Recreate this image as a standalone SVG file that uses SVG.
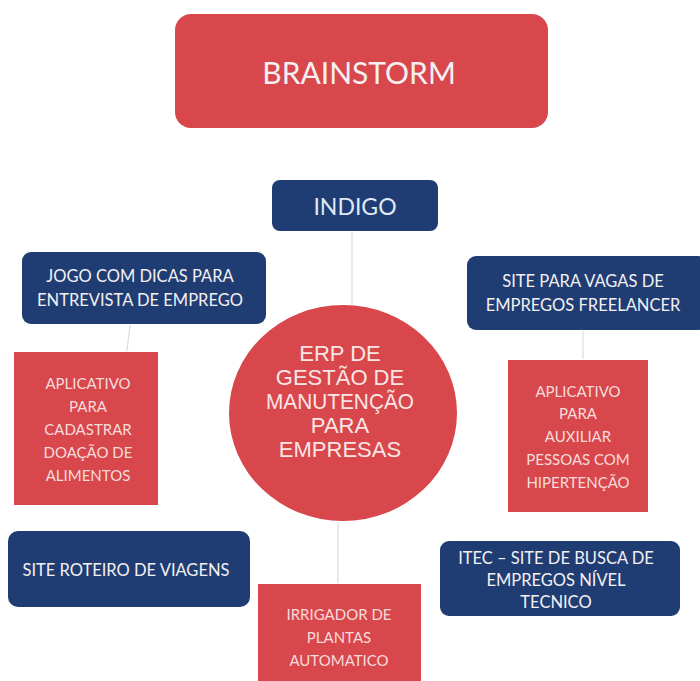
<svg xmlns="http://www.w3.org/2000/svg" width="700" height="681" viewBox="0 0 700 681">
<style>
.red{fill:#d8474b}
.navy{fill:#1f3d73}
.t{font-family:Lato,"Liberation Sans",sans-serif;text-anchor:middle;fill:#f4f0f2}
.b{font-size:16.5px}
.tr{font-family:Lato,"Liberation Sans",sans-serif;text-anchor:middle;fill:#f6dcdc}
.c{font-family:"Liberation Sans Narrow","Liberation Sans",sans-serif;text-anchor:middle;fill:#f8e6e6}
.ln{stroke:#dcdcdc;stroke-width:1.2;fill:none}
</style>
<rect width="700" height="681" fill="#ffffff"/>
<g id="connectors">
<line class="ln" x1="352" y1="232" x2="352" y2="306"/>
<line class="ln" x1="130" y1="325" x2="127" y2="351"/>
<line class="ln" x1="583" y1="331" x2="583" y2="359"/>
<line class="ln" x1="338" y1="522" x2="338" y2="583"/>
</g>
<g id="brainstorm">
<rect class="red" x="175" y="14" width="373" height="114" rx="16"/>
<text class="t" x="359" y="84" font-size="30" fill="#f4eef0">BRAINSTORM</text>
</g>
<g id="indigo">
<rect class="navy" x="272" y="180" width="166" height="51" rx="8"/>
<text class="t" x="355" y="215" font-size="23" style="fill:#dfeaf6">INDIGO</text>
</g>
<g id="jogo">
<rect class="navy" x="22" y="252" width="244" height="72" rx="9"/>
<text class="t b" x="140" y="282">JOGO COM DICAS PARA</text>
<text class="t b" x="140" y="306">ENTREVISTA DE EMPREGO</text>
</g>
<g id="vagas">
<rect class="navy" x="467" y="256" width="240" height="74" rx="9"/>
<text class="t b" x="583" y="287">SITE PARA VAGAS DE</text>
<text class="t b" x="583" y="311">EMPREGOS FREELANCER</text>
</g>
<g id="doacao">
<rect class="red" x="14" y="352" width="144" height="153"/>
<text class="tr" x="88" y="389" font-size="15">APLICATIVO</text>
<text class="tr" x="88" y="412" font-size="15">PARA</text>
<text class="tr" x="88" y="435" font-size="15">CADASTRAR</text>
<text class="tr" x="88" y="458" font-size="15">DOAÇÃO DE</text>
<text class="tr" x="88" y="481" font-size="15">ALIMENTOS</text>
</g>
<g id="erp">
<ellipse class="red" cx="343" cy="413" rx="114" ry="108"/>
<text class="c" x="340" y="361" font-size="22">ERP DE</text>
<text class="c" x="340" y="385" font-size="22">GESTÃO DE</text>
<text class="c" x="340" y="409" font-size="22" textLength="148" lengthAdjust="spacingAndGlyphs">MANUTENÇÃO</text>
<text class="c" x="340" y="433" font-size="22">PARA</text>
<text class="c" x="340" y="457" font-size="22">EMPRESAS</text>
</g>
<g id="hipertencao">
<rect class="red" x="508" y="360" width="140" height="152"/>
<text class="tr" x="578" y="397" font-size="15">APLICATIVO</text>
<text class="tr" x="578" y="419" font-size="15">PARA</text>
<text class="tr" x="578" y="442" font-size="15">AUXILIAR</text>
<text class="tr" x="578" y="465" font-size="15">PESSOAS COM</text>
<text class="tr" x="578" y="488" font-size="15">HIPERTENÇÃO</text>
</g>
<g id="roteiro">
<rect class="navy" x="8" y="531" width="242" height="76" rx="10"/>
<text class="t b" x="126" y="576">SITE ROTEIRO DE VIAGENS</text>
</g>
<g id="itec">
<rect class="navy" x="440" y="541" width="240" height="75" rx="9"/>
<text class="t b" x="556" y="564">ITEC – SITE DE BUSCA DE</text>
<text class="t b" x="556" y="586">EMPREGOS NÍVEL</text>
<text class="t b" x="556" y="608">TECNICO</text>
</g>
<g id="irrigador">
<rect class="red" x="258" y="584" width="163" height="100"/>
<text class="tr" x="339" y="620" font-size="15">IRRIGADOR DE</text>
<text class="tr" x="339" y="643" font-size="15">PLANTAS</text>
<text class="tr" x="339" y="666" font-size="15">AUTOMATICO</text>
</g>
</svg>
